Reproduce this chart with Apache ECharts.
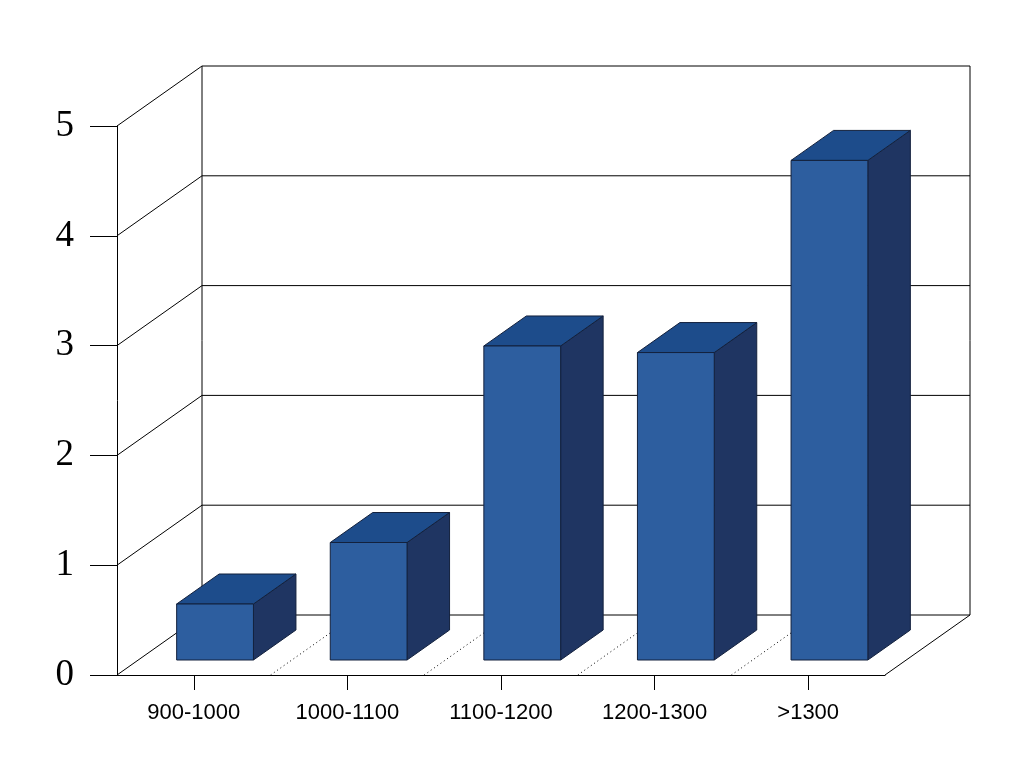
<!DOCTYPE html>
<html>
<head>
<meta charset="utf-8">
<script src="https://cdn.jsdelivr.net/npm/echarts@6/dist/echarts.min.js"></script>
<style>html,body{margin:0;padding:0;background:#fff;}#c{width:1024px;height:768px;}</style>
</head>
<body>
<div id="c"></div>
<script>
var categories = ['900-1000', '1000-1100', '1100-1200', '1200-1300', '>1300'];
var values = [0.51, 1.07, 2.86, 2.80, 4.55];
var yTicks = [0, 1, 2, 3, 4, 5];

var DX = 85, DY = -60; // depth offset in px
var FRONT = '#2d5e9f', TOP = '#1d4c8b', SIDE = '#1f3562', EDGE = '#13213d';

var chart = echarts.init(document.getElementById('c'));

function frameItem(params, api) {
  var cs = params.coordSys;
  var x0 = cs.x, x1 = cs.x + cs.width;
  var v = api.value(0);
  var y = api.coord([0, v])[1];
  var children = [];
  var ls = {stroke: '#000', lineWidth: 1};
  children.push({type: 'line', shape: {x1: x0, y1: y, x2: x0 + DX, y2: y + DY}, style: ls});
  children.push({type: 'line', shape: {x1: x0 + DX, y1: y + DY, x2: x1 + DX, y2: y + DY}, style: ls});
  if (params.dataIndex === 0) {
    var yTop = api.coord([0, yTicks[yTicks.length - 1]])[1];
    children.push({type: 'line', shape: {x1: x0 + DX, y1: y + DY, x2: x0 + DX, y2: yTop + DY}, style: ls});
    children.push({type: 'line', shape: {x1: x1 + DX, y1: y + DY, x2: x1 + DX, y2: yTop + DY}, style: ls});
    children.push({type: 'line', shape: {x1: x1, y1: y, x2: x1 + DX, y2: y + DY}, style: ls});
    var band = cs.width / categories.length;
    for (var i = 1; i < categories.length; i++) {
      var bx = x0 + band * i;
      children.push({type: 'line', shape: {x1: bx, y1: y, x2: bx + DX, y2: y + DY},
        style: {stroke: '#000', lineWidth: 1, lineDash: [1, 3]}});
    }
  }
  return {type: 'group', children: children};
}

function barItem(params, api) {
  var idx = api.value(0);
  var v = api.value(1);
  var top = api.coord([idx, v]);
  var base = api.coord([idx, 0]);
  var band = api.size([1, 0])[0];
  var w = band * 0.5;
  var ox = DX * 0.25, oy = DY * 0.25;
  var ddx = DX * 0.5, ddy = DY * 0.5;
  var xa = base[0] - w / 2 + ox, xb = base[0] + w / 2 + ox;
  var yb = base[1] + oy, yt = top[1] + oy;
  var st = function (c) { return {fill: c, stroke: EDGE, lineWidth: 1}; };
  return {type: 'group', children: [
    {type: 'polygon', shape: {points: [[xb, yt], [xb + ddx, yt + ddy], [xb + ddx, yb + ddy], [xb, yb]]}, style: st(SIDE)},
    {type: 'polygon', shape: {points: [[xa, yt], [xa + ddx, yt + ddy], [xb + ddx, yt + ddy], [xb, yt]]}, style: st(TOP)},
    {type: 'rect', shape: {x: xa, y: yt, width: xb - xa, height: yb - yt}, style: st(FRONT)}
  ]};
}

chart.setOption({
  backgroundColor: '#fff',
  animation: false,
  grid: {left: 117, right: 139, top: 126, bottom: 93},
  xAxis: {
    type: 'category',
    data: categories,
    boundaryGap: true,
    axisLine: {show: true, lineStyle: {color: '#000', width: 1}},
    axisTick: {show: true, alignWithLabel: true, length: 15, lineStyle: {color: '#000'}},
    axisLabel: {color: '#000', fontFamily: 'Liberation Sans', fontSize: 22, margin: 27}
  },
  yAxis: {
    type: 'value',
    min: 0, max: 5, interval: 1,
    axisLine: {show: true, lineStyle: {color: '#000', width: 1}},
    axisTick: {show: true, length: 27, lineStyle: {color: '#000'}},
    axisLabel: {color: '#000', fontFamily: 'Liberation Serif', fontSize: 37, margin: 43},
    splitLine: {show: false}
  },
  series: [
    {type: 'custom', renderItem: frameItem, data: yTicks.map(function (t) { return [t]; }), z: 1, silent: true},
    {type: 'custom', renderItem: barItem, data: values.map(function (v, i) { return [i, v]; }), z: 2,
     encode: {x: 0, y: 1}}
  ]
});
</script>
</body>
</html>
